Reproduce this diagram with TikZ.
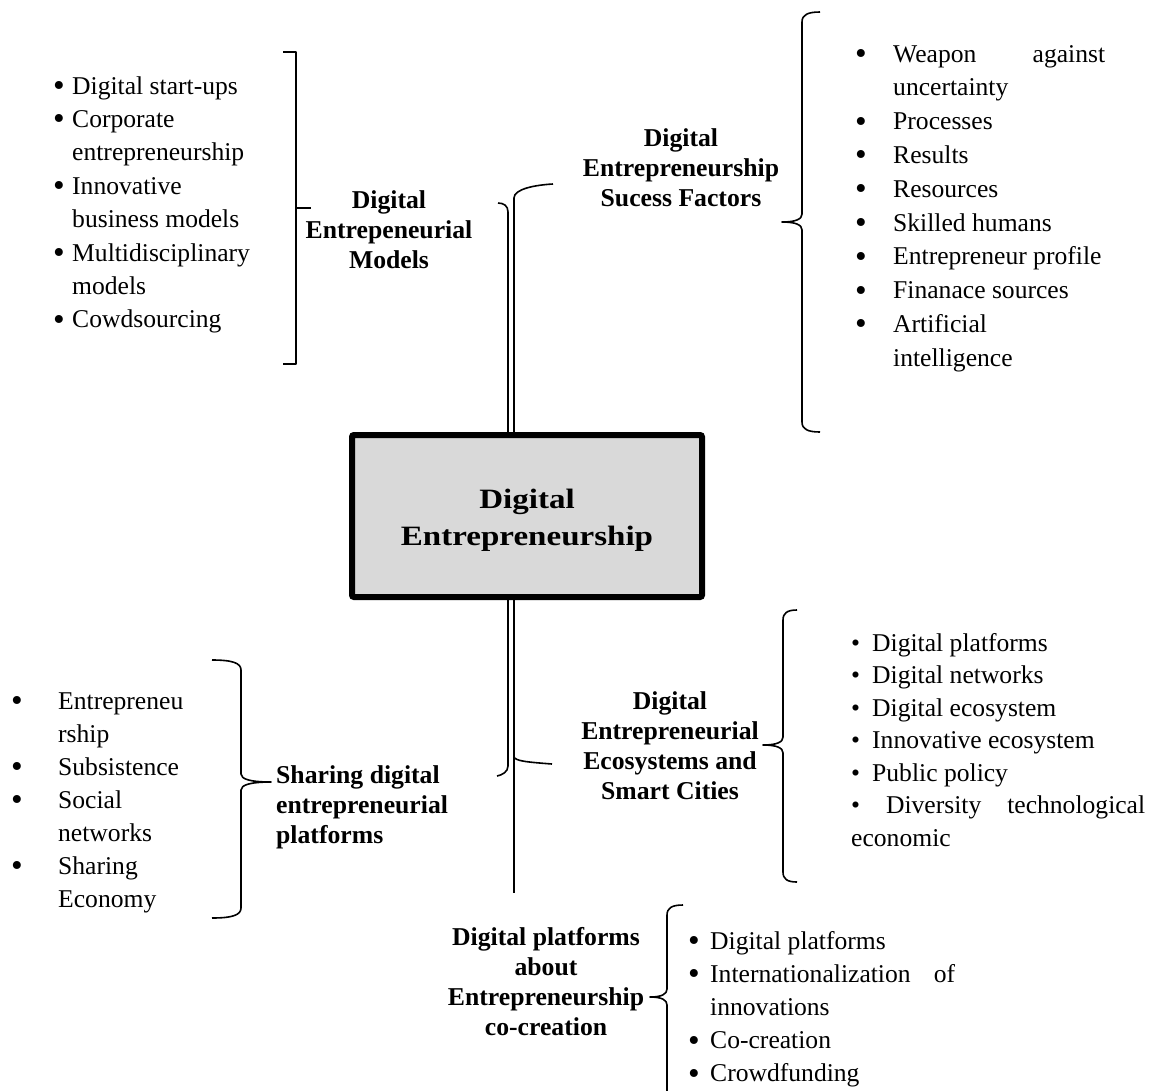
\documentclass[tikz,border=0pt]{standalone}
\usepackage{fontspec}
\setmainfont{Liberation Serif}
\usepackage{graphicx}
\usepackage{xcolor}
\definecolor{boxgray}{HTML}{D9D9D9}
\newcommand\bul{\raisebox{-0.1em}{\scalebox{1.3}{\textbullet}}}
\newcommand\wide[1]{\scalebox{1.18}[1]{#1}}

\begin{document}
\begin{tikzpicture}[x=1pt,y=-1pt,
		conn/.style={line width=1.6pt},
		brk/.style={line width=1.6pt, line join=round},
		head/.style={
			inner sep=0,
			anchor=base,
			align=center,
			font=\fontsize{25.7}{30}\bfseries\selectfont,
		},
		itemlist/.style={inner sep=0, anchor=base west, font=\fontsize{25.6}{#1}\selectfont},
		]
		\path[use as bounding box, fill=white] (0,0) rectangle (1150,1090);
		% curly brace: x, top, middle, bottom, end offset, tip offset
		\def\wbrace#1#2#3#4#5#6{%
			\draw[brk] ({#1+(#5)},#2) .. controls ({#1+0.3*(#5)},#2) and (#1,{#2+3}) .. (#1,{#2+10})
			-- (#1,{#3-8}) .. controls (#1,{#3-3}) and ({#1+0.3*(#6)},#3) .. ({#1+(#6)},#3)
			.. controls ({#1+0.3*(#6)},#3) and (#1,{#3+3}) .. (#1,{#3+8})
			-- (#1,{#4-10}) .. controls (#1,{#4-3}) and ({#1+0.3*(#5)},#4) .. ({#1+(#5)},#4);}
		
		% centre box
		\node[draw, line width=6pt, fill=boxgray, rounded corners=2pt, inner sep=0,
			minimum width=350pt, minimum height=162pt, align=center,
			font=\fontsize{28}{37}\bfseries\selectfont] (de) at (527,516) {\rule{0pt}{27pt}\wide{Digital}\\\wide{Entrepreneurship}};
		
		% headings (base = last line)
		\node[head] (mdl) at (389,268) {Digital\\Entrepeneurial\\Models};
		\node[head] (sfh) at (681,206) {Digital\\Entrepreneurship\\Sucess Factors};
		\node[head] (eco) at (670,799) {Digital\\Entrepreneurial\\Ecosystems and\\Smart Cities};
		\node[head, align=left, anchor=base west] (shr) at (276,843) {Sharing digital\\entrepreneurial\\platforms};
		\node[head] (cocr) at (546,1035) {Digital platforms\\about\\Entrepreneurship\\co-creation};
		
		% lists
		\node[itemlist=33.4] (mdll) at (53,94) {\begin{tabular}[t]{@{}p{19pt}@{}l@{}}
				\bul & Digital start-ups\\
				\bul & Corporate\\
				& entrepreneurship\\
				\bul & Innovative\\
				& business models\\
				\bul & Multidisciplinary\\
				& models\\
				\bul & Cowdsourcing
			\end{tabular}};
		\node[itemlist=33.8] (sfl) at (855,62) {\begin{tabular}[t]{@{}p{38pt}@{}l@{}}
				\bul & \makebox[212pt][s]{Weapon against}\\
				& uncertainty\\
				\bul & Processes\\
				\bul & Results\\
				\bul & Resources\\
				\bul & Skilled humans\\
				\bul & Entrepreneur profile\\
				\bul & Finanace sources\\
				\bul & Artificial\\
				& intelligence
			\end{tabular}};
		\node[itemlist=32.5] (ecol) at (851,651) {\begin{tabular}[t]{@{}p{21pt}@{}l@{}}
				\textbullet & Digital platforms\\
				\textbullet & Digital networks\\
				\textbullet & Digital ecosystem\\
				\textbullet & Innovative ecosystem\\
				\textbullet & Public policy\\
				\multicolumn{2}{@{}l@{}}{\makebox[294pt][s]{\textbullet\ Diversity technological}}\\
				\multicolumn{2}{@{}l@{}}{economic}
			\end{tabular}};
		\node[itemlist=33] (shrl) at (11,709) {\begin{tabular}[t]{@{}p{47pt}@{}l@{}}
				\bul & Entrepreneu\\
				& rship\\
				\bul & Subsistence\\
				\bul & Social\\
				& networks\\
				\bul & Sharing\\
				& Economy
			\end{tabular}};
		\node[itemlist=33.2] (cocl) at (688,949) {\begin{tabular}[t]{@{}p{22pt}@{}l@{}}
				\bul & Digital platforms\\
				\bul & \makebox[245pt][s]{Internationalization of}\\
				& innovations\\
				\bul & Co-creation\\
				\bul & Crowdfunding
			\end{tabular}};
		
		% brackets
		\draw[brk] (283,52) -- (296,52) -- (296,364) -- (283,364);
		\draw[brk] (296,208) -- (311,208);
		\wbrace{802}{12}{222}{432}{18}{-20}
		\wbrace{783}{610}{745}{882}{14}{-20}
		\wbrace{241}{660}{782}{918}{-29}{30}
		\wbrace{667}{905}{997}{1110}{16}{-17}
		
		% trunks
		\coordinate (mhook) at (498,203);
		\coordinate (shook) at (553,184);
		\coordinate (phook) at (497,776);
		\coordinate (ehook) at (552,764);
		\coordinate (ebranch) at (514,757);
		\coordinate (cend) at (514,893);
		\draw[conn] ([xshift=-19pt]de.north) -- ++(0,-220) .. controls +(0,-6) and +(6,0) .. (mhook);
		\draw[conn] ([xshift=-13pt]de.north) -- ++(0,-234) .. controls +(0,-9) and +(-18,1) .. (shook);
		\draw[conn] ([xshift=-19pt]de.south) -- ++(0,166) .. controls +(0,6) and +(5,-1) .. (phook);
		\draw[conn] ([xshift=-13pt]de.south) -- (cend);
		\draw[conn] (ebranch) .. controls +(2,4) and +(-26,-2) .. (ehook);
		
\end{tikzpicture}
\end{document}
